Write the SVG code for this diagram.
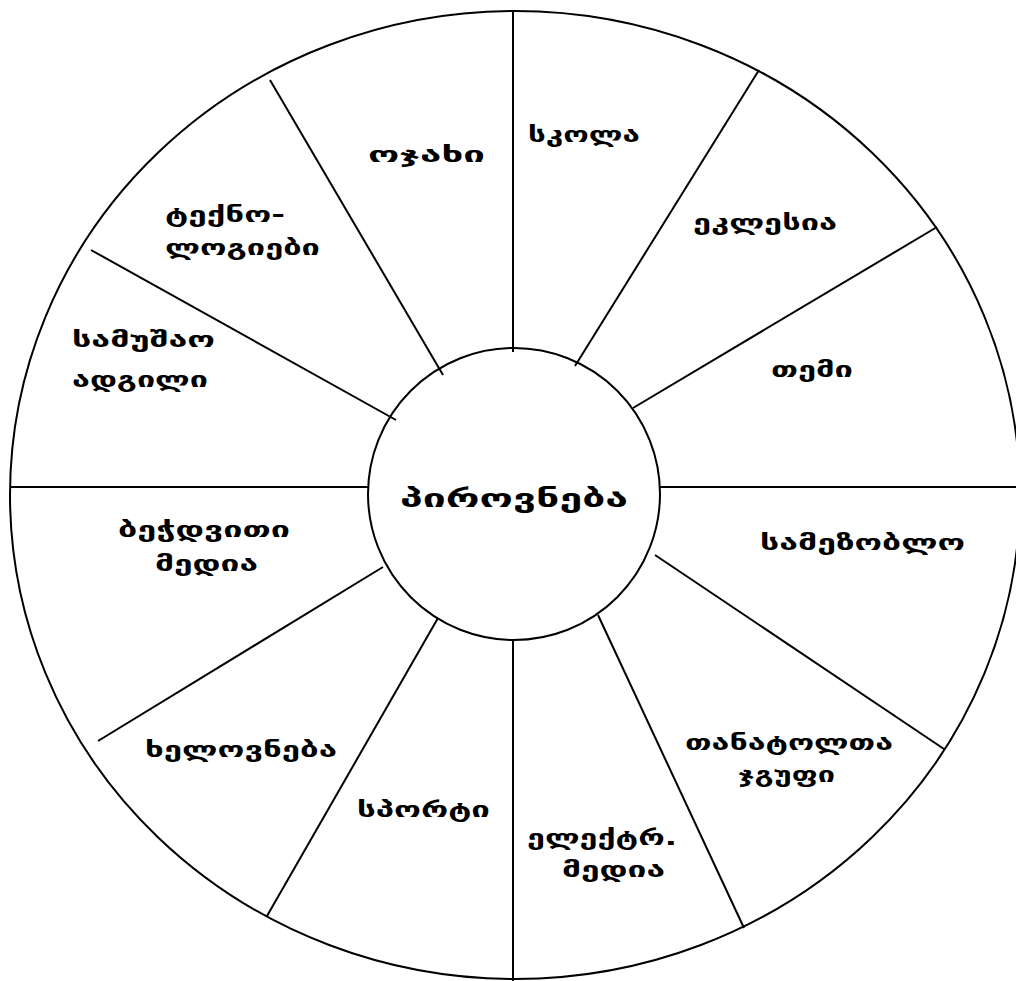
<svg xmlns="http://www.w3.org/2000/svg" width="1016" height="981" viewBox="0 0 1016 981">
<style>
.ln{stroke:#000;stroke-width:2;fill:none}
.t{font-family:"DejaVu Sans","Noto Sans",sans-serif;font-weight:bold;font-size:22px;fill:#000}
.c{font-size:25px}
</style>
<rect width="1016" height="981" fill="#fff"/>
<g id="outer"><ellipse class="ln" cx="515" cy="495" rx="505" ry="484"/></g>
<g id="connectors">
<line class="ln" x1="513" y1="11" x2="513" y2="352"/>
<line class="ln" x1="575" y1="366" x2="759" y2="70"/>
<line class="ln" x1="633" y1="408" x2="937" y2="227"/>
<line class="ln" x1="660" y1="487" x2="1016" y2="487"/>
<line class="ln" x1="655" y1="555" x2="944" y2="749"/>
<line class="ln" x1="598" y1="615" x2="744" y2="928"/>
<line class="ln" x1="513" y1="640" x2="513" y2="981"/>
<line class="ln" x1="438" y1="618" x2="267" y2="916"/>
<line class="ln" x1="383" y1="567" x2="98" y2="741"/>
<line class="ln" x1="10" y1="487" x2="368" y2="487"/>
<line class="ln" x1="396" y1="420" x2="91" y2="250"/>
<line class="ln" x1="443" y1="375" x2="270" y2="80"/>
</g>
<g id="center"><circle class="ln" cx="514" cy="494" r="146"/>
<text class="t c" x="400" y="507" textLength="228" lengthAdjust="spacingAndGlyphs">პიროვნება</text></g>
<g id="n-family"><text class="t" x="368" y="162" textLength="117" lengthAdjust="spacingAndGlyphs">ოჯახი</text></g>
<g id="n-school"><text class="t" x="528" y="142" textLength="112" lengthAdjust="spacingAndGlyphs">სკოლა</text></g>
<g id="n-church"><text class="t" x="693" y="230" textLength="144" lengthAdjust="spacingAndGlyphs">ეკლესია</text></g>
<g id="n-community"><text class="t" x="771" y="377" textLength="82" lengthAdjust="spacingAndGlyphs">თემი</text></g>
<g id="n-neighbourhood"><text class="t" x="760" y="550" textLength="205" lengthAdjust="spacingAndGlyphs">სამეზობლო</text></g>
<g id="n-peers"><text class="t" x="685" y="750" textLength="208" lengthAdjust="spacingAndGlyphs">თანატოლთა</text>
<text class="t" x="738" y="782" textLength="97" lengthAdjust="spacingAndGlyphs">ჯგუფი</text></g>
<g id="n-emedia"><text class="t" x="527" y="845" textLength="150" lengthAdjust="spacingAndGlyphs">ელექტრ.</text>
<text class="t" x="562" y="877" textLength="103" lengthAdjust="spacingAndGlyphs">მედია</text></g>
<g id="n-sport"><text class="t" x="357" y="817" textLength="133" lengthAdjust="spacingAndGlyphs">სპორტი</text></g>
<g id="n-art"><text class="t" x="145" y="757" textLength="192" lengthAdjust="spacingAndGlyphs">ხელოვნება</text></g>
<g id="n-print"><text class="t" x="118" y="537" textLength="172" lengthAdjust="spacingAndGlyphs">ბეჭდვითი</text>
<text class="t" x="155" y="571" textLength="103" lengthAdjust="spacingAndGlyphs">მედია</text></g>
<g id="n-work"><text class="t" x="72" y="347" textLength="143" lengthAdjust="spacingAndGlyphs">სამუშაო</text>
<text class="t" x="72" y="387" textLength="136" lengthAdjust="spacingAndGlyphs">ადგილი</text></g>
<g id="n-tech"><text class="t" x="165" y="222" textLength="120" lengthAdjust="spacingAndGlyphs">ტექნო-</text>
<text class="t" x="165" y="255" textLength="155" lengthAdjust="spacingAndGlyphs">ლოგიები</text></g>
</svg>
